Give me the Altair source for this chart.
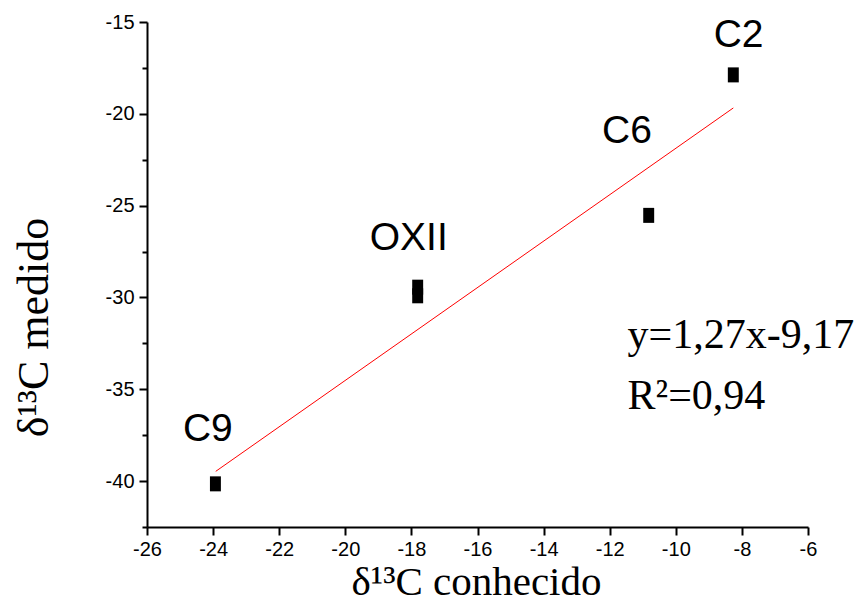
import altair as alt
import pandas as pd

# measured points (two replicates for OXII)
pt_x = [-8.26, -10.82, -17.81, -17.81, -23.93]
pt_y = [-17.88, -25.53, -29.44, -29.91, -40.15]

# sample labels
lab_text = ["C2", "C6", "OXII", "C9"]
lab_x = [-8.10, -11.48, -18.08, -24.16]
lab_y = [-16.36, -21.60, -27.39, -37.82]

# fitted line end points
fit_x = [-23.92, -8.26]
fit_y = [-39.47, -19.68]

# equation annotation
eq_text = ["y=1,27x-9,17", "R²=0,94"]
eq_x = [-11.46, -11.46]
eq_y = [-32.74, -36.10]

x_ticks = list(range(-26, -5))
y_ticks = [-42.5, -40, -37.5, -35, -32.5, -30, -27.5, -25, -22.5, -20, -17.5, -15]

pts = pd.DataFrame({"x": pt_x, "y": pt_y})
labs = pd.DataFrame({"t": lab_text, "x": lab_x, "y": lab_y})
fit = pd.DataFrame({"x": fit_x, "y": fit_y})
eq = pd.DataFrame({"t": eq_text, "x": eq_x, "y": eq_y})

xscale = alt.Scale(domain=[-26, -6], nice=False, zero=False)
yscale = alt.Scale(domain=[-42.5, -15], nice=False, zero=False)

xaxis = alt.Axis(
    values=x_ticks,
    labelExpr="datum.value % 2 === 0 ? '' + datum.value : ''",
    tickSize={"condition": {"test": "datum.value % 2 === 0", "value": 8}, "value": 5},
    labelOverlap=False,
    labelFlush=False,
    labelPadding=4,
    title="δ¹³C conhecido",
    titleFontSize=41,
    titleX=329,
    titleY=67,
    titleAlign="center",
    titleBaseline="alphabetic",
)
yaxis = alt.Axis(
    values=y_ticks,
    labelExpr="datum.value % 5 === 0 ? '' + datum.value : ''",
    tickSize={"condition": {"test": "datum.value % 5 === 0", "value": 8}, "value": 5},
    labelOverlap=False,
    labelFlush=False,
    labelPadding=5,
    title="δ¹³C medido",
    titleFontSize=44,
    titleAngle=270,
    titleX=-100,
    titleY=305,
    titleAlign="center",
    titleBaseline="alphabetic",
)

line = alt.Chart(fit).mark_line(color="#ff0000", strokeWidth=1).encode(
    x=alt.X("x:Q", scale=xscale, axis=xaxis),
    y=alt.Y("y:Q", scale=yscale, axis=yaxis),
)

points = alt.Chart(pts).mark_point(
    shape="M-0.73,-1H0.73V1H-0.73Z", filled=True, color="black", opacity=1, size=225
).encode(
    x=alt.X("x:Q", scale=xscale),
    y=alt.Y("y:Q", scale=yscale),
)

labels = alt.Chart(labs).mark_text(
    font="Liberation Sans", fontSize=39, align="center", baseline="alphabetic", color="black"
).encode(
    x=alt.X("x:Q", scale=xscale),
    y=alt.Y("y:Q", scale=yscale),
    text="t:N",
)

eqs = alt.Chart(eq).mark_text(
    font="Liberation Serif", fontSize=42, align="left", baseline="alphabetic", color="black"
).encode(
    x=alt.X("x:Q", scale=xscale),
    y=alt.Y("y:Q", scale=yscale),
    text="t:N",
)

chart = alt.layer(line, points, labels, eqs).properties(
    width=661,
    height=505,
    autosize=alt.AutoSizeParams(type="none"),
    padding={"left": 147, "top": 22, "right": 51, "bottom": 81},
    background="white",
).configure_view(stroke=None).configure_axis(
    grid=False,
    domainColor="black",
    domainWidth=2,
    tickColor="black",
    tickWidth=2,
    labelFont="Liberation Sans",
    labelFontSize=20,
    labelColor="black",
    titleFont="Liberation Serif",
    titleFontWeight="normal",
    titleColor="black",
)

chart.save("out.html", embed_options={"renderer": "svg", "actions": False})
